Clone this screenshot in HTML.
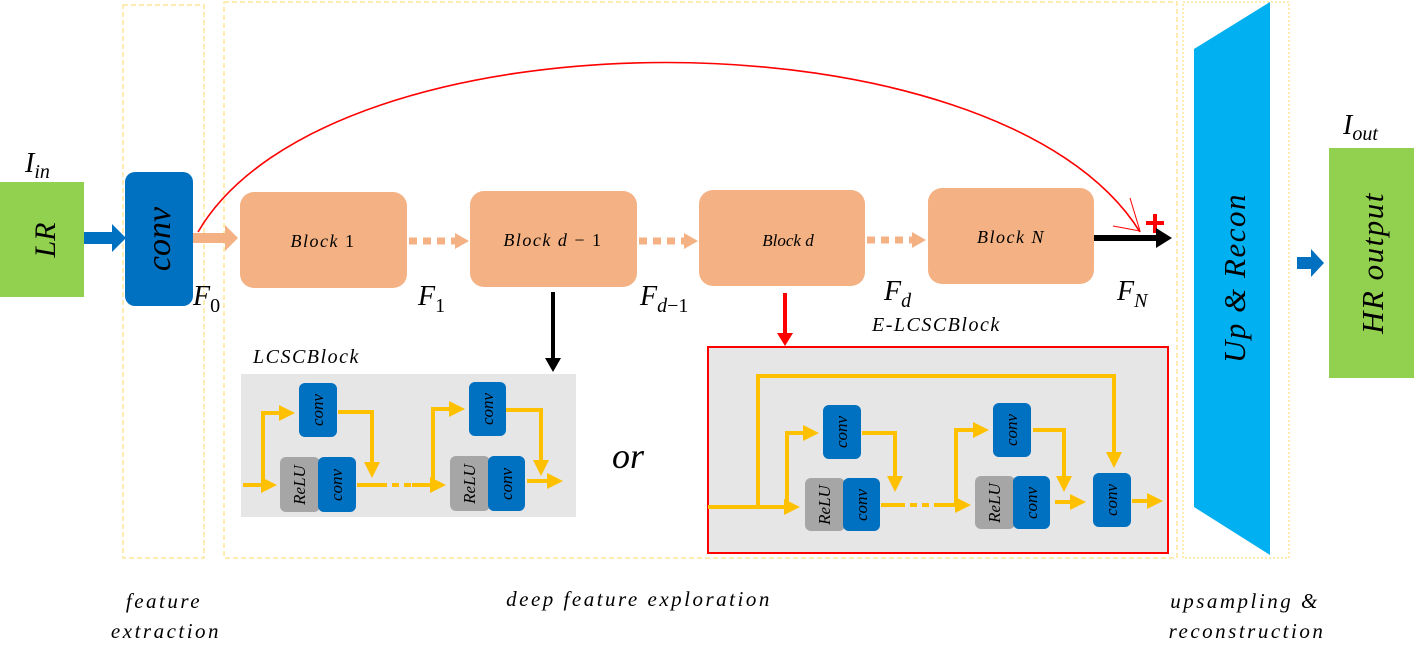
<!DOCTYPE html>
<html><head><meta charset="utf-8"><style>
html,body{margin:0;padding:0;background:#fff}
svg{display:block}
text{font-family:"Liberation Serif",serif;font-style:italic;fill:#000}
.bl{letter-spacing:1.5px}
.bt{letter-spacing:2.5px}
</style></head><body>
<svg width="1414" height="649" viewBox="0 0 1414 649" xmlns="http://www.w3.org/2000/svg">
<defs>
<marker id="ya" markerWidth="4" markerHeight="4" refX="3" refY="2" orient="auto" markerUnits="strokeWidth"><path d="M0,0 L4,2 L0,4z" fill="#ffc000"/></marker>
</defs>
<rect x="123" y="5" width="81" height="553" fill="none" stroke="#ffe699" stroke-width="1.5" stroke-dasharray="5,3"/>
<rect x="224" y="2" width="953" height="556" fill="none" stroke="#ffe699" stroke-width="1.5" stroke-dasharray="5,3"/>
<rect x="1183" y="2" width="106" height="556" fill="none" stroke="#ffe699" stroke-width="1.5" stroke-dasharray="2,2"/>

<rect x="0" y="182" width="84" height="115" fill="#92d050"/>
<text transform="translate(55,240) rotate(-90)" font-size="30" text-anchor="middle">LR</text>
<text x="25" y="172" font-size="28">I<tspan font-size="20" dy="6">in</tspan></text>
<path d="M84,232 h28 v-8 l14,14 l-14,14 v-8 h-28z" fill="#0070c0"/>
<rect x="125" y="172" width="68" height="134" rx="10" fill="#0070c0"/>
<text transform="translate(170,239) rotate(-90)" font-size="34" text-anchor="middle">conv</text>
<path d="M193,233 h32 v-8 l13,13 l-13,13 v-8 h-32z" fill="#f4b183"/>

<path d="M198,232 C 330,6 1000,6 1140,232" fill="none" stroke="#f00" stroke-width="1.6"/>
<path d="M1130,198 L1140,231 L1113,226" fill="none" stroke="#f00" stroke-width="1"/>
<path d="M1146,223 h18 M1155,214 v19" stroke="#f00" stroke-width="4"/>

<rect x="240" y="192" width="167" height="96" rx="14" fill="#f4b183"/>
<text x="323" y="247" font-size="18" text-anchor="middle" class="bl">Block <tspan font-style="normal">1</tspan></text>
<rect x="470" y="191" width="167" height="96" rx="14" fill="#f4b183"/>
<text x="553" y="246" font-size="18" text-anchor="middle" class="bl">Block d <tspan font-style="normal">− 1</tspan></text>
<rect x="699" y="190" width="166" height="96" rx="14" fill="#f4b183"/>
<text x="788" y="246" font-size="17" text-anchor="middle" font-style="normal" font-family="Liberation Sans">Block d</text>
<rect x="928" y="188" width="166" height="96" rx="14" fill="#f4b183"/>
<text x="1011" y="243" font-size="18" text-anchor="middle" class="bl">Block N</text>

<g stroke="#f4b183" stroke-width="7" stroke-dasharray="8,6">
<line x1="409" y1="241" x2="455" y2="241"/><line x1="639" y1="241" x2="684" y2="241"/><line x1="867" y1="240" x2="912" y2="240"/></g>
<path d="M455,233 l14,8 l-14,8z M684,233 l14,8 l-14,8z M912,232 l14,8 l-14,8z" fill="#f4b183"/>
<path d="M1094,235 h62 v-7 l16,10 l-16,10 v-7 h-62z" fill="#000"/>

<text x="193" y="305" font-size="28">F<tspan font-size="20" dy="7" font-style="normal">0</tspan></text>
<text x="418" y="305" font-size="28">F<tspan font-size="20" dy="7" font-style="normal">1</tspan></text>
<text x="640" y="305" font-size="28">F<tspan font-size="20" dy="7">d</tspan><tspan font-style="normal" font-size="20">−1</tspan></text>
<text x="884" y="300" font-size="28">F<tspan font-size="20" dy="7">d</tspan></text>
<text x="1117" y="300" font-size="28">F<tspan font-size="20" dy="7">N</tspan></text>

<path d="M551,292 h4 v66 h6 l-8,14 l-8,-14 h6z" fill="#000"/>
<path d="M783,293 h4 v40 h6 l-8,13 l-8,-13 h6z" fill="#f00"/>

<text x="253" y="363" font-size="20" class="bl">LCSCBlock</text>
<rect x="241" y="374" width="335" height="143" fill="#e6e6e6"/>
<g fill="none" stroke="#ffc000" stroke-width="4">
<path d="M243,485 h30" marker-end="url(#ya)"/>
<path d="M263,485 V413 h28" marker-end="url(#ya)"/>
<path d="M338,412 h34 v62" marker-end="url(#ya)"/>
<path d="M357,485 h23"/><path d="M380,485 h32" stroke-dasharray="7,5"/>
<path d="M412,485 h30" marker-end="url(#ya)"/>
<path d="M433,485 V409 h28" marker-end="url(#ya)"/>
<path d="M506,410 h35 v62" marker-end="url(#ya)"/>
<path d="M527,481 h32" marker-end="url(#ya)"/>
</g>
<rect x="299" y="383" width="38" height="54" rx="6" fill="#0070c0"/>
<text transform="translate(323,410) rotate(-90)" font-size="17" text-anchor="middle">conv</text>
<rect x="280" y="457" width="40" height="55" rx="6" fill="#a6a6a6"/>
<text transform="translate(305,485) rotate(-90)" font-size="17" text-anchor="middle">ReLU</text>
<rect x="318" y="457" width="38" height="55" rx="6" fill="#0070c0"/>
<text transform="translate(342,485) rotate(-90)" font-size="17" text-anchor="middle">conv</text>
<rect x="469" y="382" width="37" height="54" rx="6" fill="#0070c0"/>
<text transform="translate(493,409) rotate(-90)" font-size="17" text-anchor="middle">conv</text>
<rect x="450" y="456" width="40" height="55" rx="6" fill="#a6a6a6"/>
<text transform="translate(475,484) rotate(-90)" font-size="17" text-anchor="middle">ReLU</text>
<rect x="488" y="456" width="37" height="55" rx="6" fill="#0070c0"/>
<text transform="translate(512,484) rotate(-90)" font-size="17" text-anchor="middle">conv</text>

<text x="612" y="468" font-size="36">or</text>

<text x="872" y="331" font-size="20" class="bl">E-LCSCBlock</text>
<rect x="708" y="347" width="460" height="206" fill="#e6e6e6" stroke="#f00" stroke-width="2"/>
<g fill="none" stroke="#ffc000" stroke-width="4">
<path d="M708,507 h88" marker-end="url(#ya)"/>
<path d="M758,507 V376 h356 v88" marker-end="url(#ya)"/>
<path d="M787,507 V433 h28" marker-end="url(#ya)"/>
<path d="M862,433 h33 v55" marker-end="url(#ya)"/>
<path d="M881,505 h17"/><path d="M898,505 h42" stroke-dasharray="7,5"/>
<path d="M940,505 h27" marker-end="url(#ya)"/>
<path d="M956,505 V430 h29" marker-end="url(#ya)"/>
<path d="M1033,430 h31 v58" marker-end="url(#ya)"/>
<path d="M1055,502 h27" marker-end="url(#ya)"/>
<path d="M1132,501 h27" marker-end="url(#ya)"/>
</g>
<rect x="823" y="405" width="38" height="54" rx="6" fill="#0070c0"/>
<text transform="translate(847,432) rotate(-90)" font-size="17" text-anchor="middle">conv</text>
<rect x="805" y="478" width="40" height="53" rx="6" fill="#a6a6a6"/>
<text transform="translate(830,505) rotate(-90)" font-size="17" text-anchor="middle">ReLU</text>
<rect x="843" y="478" width="37" height="53" rx="6" fill="#0070c0"/>
<text transform="translate(867,505) rotate(-90)" font-size="17" text-anchor="middle">conv</text>
<rect x="993" y="403" width="38" height="54" rx="6" fill="#0070c0"/>
<text transform="translate(1017,430) rotate(-90)" font-size="17" text-anchor="middle">conv</text>
<rect x="975" y="476" width="40" height="53" rx="6" fill="#a6a6a6"/>
<text transform="translate(1000,503) rotate(-90)" font-size="17" text-anchor="middle">ReLU</text>
<rect x="1013" y="476" width="37" height="53" rx="6" fill="#0070c0"/>
<text transform="translate(1037,503) rotate(-90)" font-size="17" text-anchor="middle">conv</text>
<rect x="1093" y="473" width="38" height="54" rx="6" fill="#0070c0"/>
<text transform="translate(1117,500) rotate(-90)" font-size="17" text-anchor="middle">conv</text>

<path d="M1194,49 L1270,2 L1270,555 L1194,507z" fill="#00b0f0"/>
<text transform="translate(1245,278) rotate(-90)" font-size="31" text-anchor="middle" class="bl">Up &amp; Recon</text>
<path d="M1297,257 h14 v-8 l13,14 l-13,14 v-8 h-14z" fill="#0070c0"/>
<rect x="1329" y="148" width="85" height="230" fill="#92d050"/>
<text transform="translate(1383,263) rotate(-90)" font-size="31" text-anchor="middle" class="bl">HR output</text>
<text x="1343" y="134" font-size="28">I<tspan font-size="20" dy="6">out</tspan></text>

<text x="164" y="608" font-size="21" text-anchor="middle" class="bt">feature</text>
<text x="166" y="638" font-size="21" text-anchor="middle" class="bt">extraction</text>
<text x="639" y="606" font-size="21" text-anchor="middle" class="bt">deep feature exploration</text>
<text x="1245" y="608" font-size="21" text-anchor="middle" class="bt">upsampling &amp;</text>
<text x="1247" y="638" font-size="21" text-anchor="middle" class="bt">reconstruction</text>
</svg>
</body></html>
